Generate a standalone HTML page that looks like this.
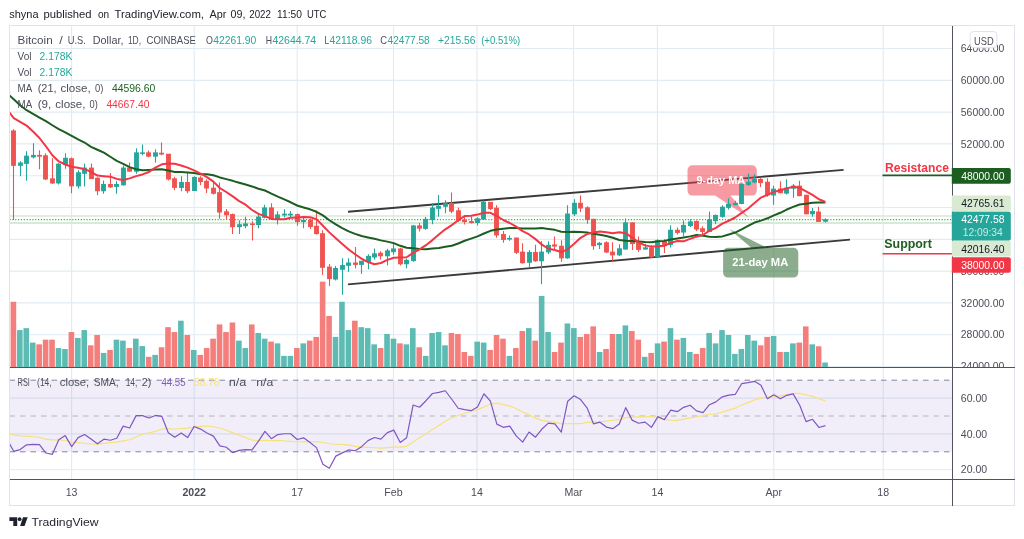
<!DOCTYPE html>
<html><head><meta charset="utf-8"><title>BTCUSD chart</title>
<style>html,body{margin:0;padding:0;background:#fff;overflow:hidden}body{width:1024px;height:539px}</style></head>
<body>
<svg width="1024" height="539" viewBox="0 0 1024 539" style="display:block;font-family:'Liberation Sans', 'DejaVu Sans', sans-serif">
<rect width="1024" height="539" fill="#fff"/>
<defs><clipPath id="cm"><rect x="9.5" y="25.5" width="943.0" height="341.5"/></clipPath><clipPath id="cr"><rect x="9.5" y="367" width="943.0" height="112.5"/></clipPath></defs>
<text x="9.2" y="17.6" font-size="11.2" fill="#20232c" textLength="29.3" lengthAdjust="spacingAndGlyphs">shyna</text>
<text x="43.5" y="17.6" font-size="11.2" fill="#20232c" textLength="48.1" lengthAdjust="spacingAndGlyphs">published</text>
<text x="97.9" y="17.6" font-size="11.2" fill="#20232c" textLength="11.2" lengthAdjust="spacingAndGlyphs">on</text>
<text x="114.5" y="17.6" font-size="11.2" fill="#20232c" textLength="89.5" lengthAdjust="spacingAndGlyphs">TradingView.com,</text>
<text x="209.5" y="17.6" font-size="11.2" fill="#20232c" textLength="16.9" lengthAdjust="spacingAndGlyphs">Apr</text>
<text x="230.6" y="17.6" font-size="11.2" fill="#20232c" textLength="14.9" lengthAdjust="spacingAndGlyphs">09,</text>
<text x="249.3" y="17.6" font-size="11.2" fill="#20232c" textLength="21.6" lengthAdjust="spacingAndGlyphs">2022</text>
<text x="277" y="17.6" font-size="11.2" fill="#20232c" textLength="24.9" lengthAdjust="spacingAndGlyphs">11:50</text>
<text x="306.9" y="17.6" font-size="11.2" fill="#20232c" textLength="19.4" lengthAdjust="spacingAndGlyphs">UTC</text>
<g stroke="#e2ebf2" stroke-width="1.15">
<line x1="71.6" y1="25.5" x2="71.6" y2="479.5"/>
<line x1="194.2" y1="25.5" x2="194.2" y2="479.5"/>
<line x1="297.2" y1="25.5" x2="297.2" y2="479.5"/>
<line x1="393.5" y1="25.5" x2="393.5" y2="479.5"/>
<line x1="477.0" y1="25.5" x2="477.0" y2="479.5"/>
<line x1="573.5" y1="25.5" x2="573.5" y2="479.5"/>
<line x1="657.4" y1="25.5" x2="657.4" y2="479.5"/>
<line x1="773.8" y1="25.5" x2="773.8" y2="479.5"/>
<line x1="883.2" y1="25.5" x2="883.2" y2="479.5"/>
<line x1="9.5" y1="48.5" x2="952.5" y2="48.5"/>
<line x1="9.5" y1="80.3" x2="952.5" y2="80.3"/>
<line x1="9.5" y1="112.1" x2="952.5" y2="112.1"/>
<line x1="9.5" y1="143.9" x2="952.5" y2="143.9"/>
<line x1="9.5" y1="175.7" x2="952.5" y2="175.7"/>
<line x1="9.5" y1="207.5" x2="952.5" y2="207.5"/>
<line x1="9.5" y1="239.3" x2="952.5" y2="239.3"/>
<line x1="9.5" y1="271.1" x2="952.5" y2="271.1"/>
<line x1="9.5" y1="302.9" x2="952.5" y2="302.9"/>
<line x1="9.5" y1="334.7" x2="952.5" y2="334.7"/>
<line x1="9.5" y1="366.5" x2="952.5" y2="366.5"/>
<line x1="9.5" y1="398.1" x2="952.5" y2="398.1"/>
<line x1="9.5" y1="433.9" x2="952.5" y2="433.9"/>
<line x1="9.5" y1="469.7" x2="952.5" y2="469.7"/>
</g>
<g clip-path="url(#cm)">
<rect x="10.60" y="301.77" width="5.6" height="65.23" fill="#f37e7c"/>
<rect x="17.04" y="330.09" width="5.6" height="36.91" fill="#5cbcb3"/>
<rect x="23.48" y="328.13" width="5.6" height="38.87" fill="#5cbcb3"/>
<rect x="29.93" y="342.59" width="5.6" height="24.41" fill="#5cbcb3"/>
<rect x="36.37" y="344.34" width="5.6" height="22.66" fill="#f37e7c"/>
<rect x="42.81" y="339.66" width="5.6" height="27.34" fill="#f37e7c"/>
<rect x="49.25" y="339.66" width="5.6" height="27.34" fill="#f37e7c"/>
<rect x="55.69" y="348.05" width="5.6" height="18.95" fill="#5cbcb3"/>
<rect x="62.14" y="349.03" width="5.6" height="17.97" fill="#5cbcb3"/>
<rect x="68.58" y="332.04" width="5.6" height="34.96" fill="#f37e7c"/>
<rect x="75.02" y="337.90" width="5.6" height="29.10" fill="#5cbcb3"/>
<rect x="81.46" y="330.09" width="5.6" height="36.91" fill="#5cbcb3"/>
<rect x="87.90" y="345.32" width="5.6" height="21.68" fill="#f37e7c"/>
<rect x="94.35" y="334.97" width="5.6" height="32.03" fill="#f37e7c"/>
<rect x="100.79" y="352.94" width="5.6" height="14.06" fill="#5cbcb3"/>
<rect x="107.23" y="350.01" width="5.6" height="16.99" fill="#f37e7c"/>
<rect x="113.67" y="339.66" width="5.6" height="27.34" fill="#5cbcb3"/>
<rect x="120.11" y="340.63" width="5.6" height="26.37" fill="#5cbcb3"/>
<rect x="126.56" y="348.05" width="5.6" height="18.95" fill="#f37e7c"/>
<rect x="133.00" y="338.68" width="5.6" height="28.32" fill="#5cbcb3"/>
<rect x="139.44" y="346.10" width="5.6" height="20.90" fill="#5cbcb3"/>
<rect x="145.88" y="356.84" width="5.6" height="10.16" fill="#f37e7c"/>
<rect x="152.32" y="354.89" width="5.6" height="12.11" fill="#5cbcb3"/>
<rect x="158.77" y="347.27" width="5.6" height="19.73" fill="#f37e7c"/>
<rect x="165.21" y="327.16" width="5.6" height="39.84" fill="#f37e7c"/>
<rect x="171.65" y="332.04" width="5.6" height="34.96" fill="#f37e7c"/>
<rect x="178.09" y="320.71" width="5.6" height="46.29" fill="#5cbcb3"/>
<rect x="184.53" y="334.97" width="5.6" height="32.03" fill="#f37e7c"/>
<rect x="190.98" y="350.01" width="5.6" height="16.99" fill="#5cbcb3"/>
<rect x="197.42" y="354.89" width="5.6" height="12.11" fill="#f37e7c"/>
<rect x="203.86" y="348.05" width="5.6" height="18.95" fill="#f37e7c"/>
<rect x="210.30" y="338.68" width="5.6" height="28.32" fill="#f37e7c"/>
<rect x="216.74" y="324.42" width="5.6" height="42.58" fill="#f37e7c"/>
<rect x="223.19" y="332.04" width="5.6" height="34.96" fill="#f37e7c"/>
<rect x="229.63" y="322.47" width="5.6" height="44.53" fill="#f37e7c"/>
<rect x="236.07" y="340.63" width="5.6" height="26.37" fill="#5cbcb3"/>
<rect x="242.51" y="348.05" width="5.6" height="18.95" fill="#5cbcb3"/>
<rect x="248.95" y="324.42" width="5.6" height="42.58" fill="#f37e7c"/>
<rect x="255.40" y="333.02" width="5.6" height="33.98" fill="#5cbcb3"/>
<rect x="261.84" y="338.68" width="5.6" height="28.32" fill="#5cbcb3"/>
<rect x="268.28" y="341.61" width="5.6" height="25.39" fill="#f37e7c"/>
<rect x="274.72" y="343.37" width="5.6" height="23.63" fill="#5cbcb3"/>
<rect x="281.16" y="355.87" width="5.6" height="11.13" fill="#5cbcb3"/>
<rect x="287.61" y="355.87" width="5.6" height="11.13" fill="#5cbcb3"/>
<rect x="294.05" y="348.05" width="5.6" height="18.95" fill="#f37e7c"/>
<rect x="300.49" y="343.37" width="5.6" height="23.63" fill="#5cbcb3"/>
<rect x="306.93" y="340.63" width="5.6" height="26.37" fill="#f37e7c"/>
<rect x="313.37" y="336.92" width="5.6" height="30.08" fill="#f37e7c"/>
<rect x="319.82" y="281.65" width="5.6" height="85.35" fill="#f37e7c"/>
<rect x="326.26" y="316.02" width="5.6" height="50.98" fill="#f37e7c"/>
<rect x="332.70" y="336.92" width="5.6" height="30.08" fill="#5cbcb3"/>
<rect x="339.14" y="301.77" width="5.6" height="65.23" fill="#5cbcb3"/>
<rect x="345.58" y="330.09" width="5.6" height="36.91" fill="#5cbcb3"/>
<rect x="352.03" y="320.71" width="5.6" height="46.29" fill="#f37e7c"/>
<rect x="358.47" y="327.16" width="5.6" height="39.84" fill="#5cbcb3"/>
<rect x="364.91" y="328.13" width="5.6" height="38.87" fill="#5cbcb3"/>
<rect x="371.35" y="344.34" width="5.6" height="22.66" fill="#5cbcb3"/>
<rect x="377.79" y="348.05" width="5.6" height="18.95" fill="#f37e7c"/>
<rect x="384.24" y="333.99" width="5.6" height="33.01" fill="#5cbcb3"/>
<rect x="390.68" y="338.68" width="5.6" height="28.32" fill="#5cbcb3"/>
<rect x="397.12" y="343.37" width="5.6" height="23.63" fill="#f37e7c"/>
<rect x="403.56" y="344.34" width="5.6" height="22.66" fill="#5cbcb3"/>
<rect x="410.00" y="328.13" width="5.6" height="38.87" fill="#5cbcb3"/>
<rect x="416.45" y="347.27" width="5.6" height="19.73" fill="#f37e7c"/>
<rect x="422.89" y="355.87" width="5.6" height="11.13" fill="#5cbcb3"/>
<rect x="429.33" y="333.02" width="5.6" height="33.98" fill="#5cbcb3"/>
<rect x="435.77" y="332.04" width="5.6" height="34.96" fill="#5cbcb3"/>
<rect x="442.21" y="345.32" width="5.6" height="21.68" fill="#5cbcb3"/>
<rect x="448.66" y="333.02" width="5.6" height="33.98" fill="#f37e7c"/>
<rect x="455.10" y="333.99" width="5.6" height="33.01" fill="#f37e7c"/>
<rect x="461.54" y="351.96" width="5.6" height="15.04" fill="#f37e7c"/>
<rect x="467.98" y="355.87" width="5.6" height="11.13" fill="#f37e7c"/>
<rect x="474.42" y="341.61" width="5.6" height="25.39" fill="#5cbcb3"/>
<rect x="480.87" y="342.59" width="5.6" height="24.41" fill="#5cbcb3"/>
<rect x="487.31" y="350.01" width="5.6" height="16.99" fill="#f37e7c"/>
<rect x="493.75" y="334.97" width="5.6" height="32.03" fill="#f37e7c"/>
<rect x="500.19" y="338.68" width="5.6" height="28.32" fill="#f37e7c"/>
<rect x="506.63" y="355.87" width="5.6" height="11.13" fill="#5cbcb3"/>
<rect x="513.08" y="348.05" width="5.6" height="18.95" fill="#f37e7c"/>
<rect x="519.52" y="331.06" width="5.6" height="35.94" fill="#f37e7c"/>
<rect x="525.96" y="328.13" width="5.6" height="38.87" fill="#5cbcb3"/>
<rect x="532.40" y="340.63" width="5.6" height="26.37" fill="#f37e7c"/>
<rect x="538.84" y="295.91" width="5.6" height="71.09" fill="#5cbcb3"/>
<rect x="545.29" y="332.04" width="5.6" height="34.96" fill="#5cbcb3"/>
<rect x="551.73" y="351.96" width="5.6" height="15.04" fill="#f37e7c"/>
<rect x="558.17" y="342.59" width="5.6" height="24.41" fill="#f37e7c"/>
<rect x="564.61" y="323.45" width="5.6" height="43.55" fill="#5cbcb3"/>
<rect x="571.05" y="328.13" width="5.6" height="38.87" fill="#5cbcb3"/>
<rect x="577.50" y="336.92" width="5.6" height="30.08" fill="#f37e7c"/>
<rect x="583.94" y="333.99" width="5.6" height="33.01" fill="#f37e7c"/>
<rect x="590.38" y="326.38" width="5.6" height="40.62" fill="#f37e7c"/>
<rect x="596.82" y="351.96" width="5.6" height="15.04" fill="#5cbcb3"/>
<rect x="603.26" y="349.03" width="5.6" height="17.97" fill="#f37e7c"/>
<rect x="609.71" y="333.99" width="5.6" height="33.01" fill="#f37e7c"/>
<rect x="616.15" y="333.99" width="5.6" height="33.01" fill="#5cbcb3"/>
<rect x="622.59" y="325.40" width="5.6" height="41.60" fill="#5cbcb3"/>
<rect x="629.03" y="331.06" width="5.6" height="35.94" fill="#f37e7c"/>
<rect x="635.47" y="339.66" width="5.6" height="27.34" fill="#f37e7c"/>
<rect x="641.92" y="356.84" width="5.6" height="10.16" fill="#5cbcb3"/>
<rect x="648.36" y="352.94" width="5.6" height="14.06" fill="#f37e7c"/>
<rect x="654.80" y="343.37" width="5.6" height="23.63" fill="#5cbcb3"/>
<rect x="661.24" y="341.61" width="5.6" height="25.39" fill="#f37e7c"/>
<rect x="667.68" y="328.13" width="5.6" height="38.87" fill="#5cbcb3"/>
<rect x="674.13" y="339.66" width="5.6" height="27.34" fill="#f37e7c"/>
<rect x="680.57" y="337.90" width="5.6" height="29.10" fill="#5cbcb3"/>
<rect x="687.01" y="351.96" width="5.6" height="15.04" fill="#5cbcb3"/>
<rect x="693.45" y="353.91" width="5.6" height="13.09" fill="#f37e7c"/>
<rect x="699.89" y="348.05" width="5.6" height="18.95" fill="#f37e7c"/>
<rect x="706.34" y="333.02" width="5.6" height="33.98" fill="#5cbcb3"/>
<rect x="712.78" y="343.37" width="5.6" height="23.63" fill="#5cbcb3"/>
<rect x="719.22" y="330.09" width="5.6" height="36.91" fill="#5cbcb3"/>
<rect x="725.66" y="334.97" width="5.6" height="32.03" fill="#5cbcb3"/>
<rect x="732.10" y="353.91" width="5.6" height="13.09" fill="#5cbcb3"/>
<rect x="738.55" y="349.03" width="5.6" height="17.97" fill="#5cbcb3"/>
<rect x="744.99" y="334.97" width="5.6" height="32.03" fill="#5cbcb3"/>
<rect x="751.43" y="340.63" width="5.6" height="26.37" fill="#5cbcb3"/>
<rect x="757.87" y="345.32" width="5.6" height="21.68" fill="#f37e7c"/>
<rect x="764.31" y="336.92" width="5.6" height="30.08" fill="#f37e7c"/>
<rect x="770.76" y="335.95" width="5.6" height="31.05" fill="#5cbcb3"/>
<rect x="777.20" y="351.96" width="5.6" height="15.04" fill="#f37e7c"/>
<rect x="783.64" y="351.96" width="5.6" height="15.04" fill="#5cbcb3"/>
<rect x="790.08" y="343.37" width="5.6" height="23.63" fill="#5cbcb3"/>
<rect x="796.52" y="342.59" width="5.6" height="24.41" fill="#f37e7c"/>
<rect x="802.97" y="326.38" width="5.6" height="40.62" fill="#f37e7c"/>
<rect x="809.41" y="344.34" width="5.6" height="22.66" fill="#5cbcb3"/>
<rect x="815.85" y="346.30" width="5.6" height="20.70" fill="#f37e7c"/>
<rect x="822.29" y="362.51" width="5.6" height="4.49" fill="#5cbcb3"/>
<line x1="9.5" x2="952.5" y1="216.05" y2="216.05" stroke="#d9ead3" stroke-width="1.6"/>
<line x1="9.5" x2="952.5" y1="223.0" y2="223.0" stroke="#d9ead3" stroke-width="1.8"/>
<line x1="9.5" x2="952.5" y1="219.6" y2="219.6" stroke="#26a69a" stroke-width="1.2" stroke-dasharray="1.2 1.65"/>
<line x1="348" y1="211.7" x2="843.6" y2="169.9" stroke="#3a3a3a" stroke-width="1.9"/>
<line x1="348" y1="284.4" x2="850" y2="239.6" stroke="#3a3a3a" stroke-width="1.9"/>
<path fill="#f23645" fill-opacity="0.5" d="M692.5,165.2 h59.3 a5,5 0 0 1 5,5 v20.4 a5,5 0 0 1 -5,5 H730.5 L748.8,217.7 L715,195.6 H692.5 a5,5 0 0 1 -5,-5 V170.2 a5,5 0 0 1 5,-5 Z"/>
<text x="696.5" y="183.6" font-size="11.3" fill="#fff" font-weight="bold" textLength="48.8" lengthAdjust="spacingAndGlyphs">9-day MA</text>
<path fill="#1b5e20" fill-opacity="0.51" d="M728.1,247.7 H751.3 L729.2,229 L766.9,247.7 H793.3 a5,5 0 0 1 5,5 v19.9 a5,5 0 0 1 -5,5 H728.1 a5,5 0 0 1 -5,-5 V252.7 a5,5 0 0 1 5,-5 Z"/>
<text x="732.2" y="265.5" font-size="11.3" fill="#fff" font-weight="bold" textLength="56.1" lengthAdjust="spacingAndGlyphs">21-day MA</text>
<line x1="13.50" x2="13.50" y1="129.30" y2="219.90" stroke="#ef5350" stroke-width="1.1"/>
<rect x="11.05" y="130.46" width="4.9" height="35.37" fill="#ef5350"/>
<line x1="20.50" x2="20.50" y1="161.14" y2="176.18" stroke="#26a69a" stroke-width="1.1"/>
<rect x="18.05" y="162.50" width="4.9" height="3.34" fill="#26a69a"/>
<line x1="26.50" x2="26.50" y1="151.17" y2="180.67" stroke="#26a69a" stroke-width="1.1"/>
<rect x="24.05" y="155.66" width="4.9" height="8.22" fill="#26a69a"/>
<line x1="33.50" x2="33.50" y1="143.37" y2="158.60" stroke="#26a69a" stroke-width="1.1"/>
<rect x="31.05" y="154.88" width="4.9" height="2.56" fill="#26a69a"/>
<line x1="39.50" x2="39.50" y1="150.20" y2="169.34" stroke="#ef5350" stroke-width="1.1"/>
<rect x="37.05" y="154.88" width="4.9" height="1.78" fill="#ef5350"/>
<line x1="45.50" x2="45.50" y1="153.13" y2="180.09" stroke="#ef5350" stroke-width="1.1"/>
<rect x="43.05" y="155.27" width="4.9" height="24.24" fill="#ef5350"/>
<line x1="52.50" x2="52.50" y1="158.21" y2="183.99" stroke="#ef5350" stroke-width="1.1"/>
<rect x="50.05" y="178.32" width="4.9" height="5.09" fill="#ef5350"/>
<line x1="58.50" x2="58.50" y1="162.90" y2="184.58" stroke="#26a69a" stroke-width="1.1"/>
<rect x="56.05" y="163.67" width="4.9" height="19.74" fill="#26a69a"/>
<line x1="65.50" x2="65.50" y1="153.13" y2="168.76" stroke="#26a69a" stroke-width="1.1"/>
<rect x="63.05" y="157.81" width="4.9" height="7.05" fill="#26a69a"/>
<line x1="71.50" x2="71.50" y1="157.62" y2="193.37" stroke="#ef5350" stroke-width="1.1"/>
<rect x="69.05" y="158.20" width="4.9" height="28.15" fill="#ef5350"/>
<line x1="78.50" x2="78.50" y1="170.32" y2="188.48" stroke="#26a69a" stroke-width="1.1"/>
<rect x="76.05" y="172.26" width="4.9" height="14.08" fill="#26a69a"/>
<line x1="84.50" x2="84.50" y1="163.48" y2="186.54" stroke="#26a69a" stroke-width="1.1"/>
<rect x="82.05" y="167.57" width="4.9" height="6.27" fill="#26a69a"/>
<line x1="91.50" x2="91.50" y1="163.48" y2="179.11" stroke="#ef5350" stroke-width="1.1"/>
<rect x="89.05" y="167.57" width="4.9" height="11.55" fill="#ef5350"/>
<line x1="97.50" x2="97.50" y1="177.15" y2="195.13" stroke="#ef5350" stroke-width="1.1"/>
<rect x="95.05" y="177.73" width="4.9" height="13.50" fill="#ef5350"/>
<line x1="103.50" x2="103.50" y1="180.48" y2="193.76" stroke="#26a69a" stroke-width="1.1"/>
<rect x="101.05" y="183.98" width="4.9" height="7.25" fill="#26a69a"/>
<line x1="110.50" x2="110.50" y1="173.05" y2="187.90" stroke="#ef5350" stroke-width="1.1"/>
<rect x="108.05" y="183.98" width="4.9" height="3.34" fill="#ef5350"/>
<line x1="116.50" x2="116.50" y1="181.07" y2="193.76" stroke="#26a69a" stroke-width="1.1"/>
<rect x="114.05" y="183.98" width="4.9" height="2.95" fill="#26a69a"/>
<line x1="123.50" x2="123.50" y1="165.44" y2="185.56" stroke="#26a69a" stroke-width="1.1"/>
<rect x="121.05" y="167.57" width="4.9" height="17.80" fill="#26a69a"/>
<line x1="129.50" x2="129.50" y1="162.50" y2="171.69" stroke="#ef5350" stroke-width="1.1"/>
<rect x="127.05" y="167.57" width="4.9" height="4.12" fill="#ef5350"/>
<line x1="136.50" x2="136.50" y1="148.25" y2="173.83" stroke="#26a69a" stroke-width="1.1"/>
<rect x="134.05" y="152.34" width="4.9" height="19.36" fill="#26a69a"/>
<line x1="142.50" x2="142.50" y1="144.54" y2="155.28" stroke="#26a69a" stroke-width="1.1"/>
<rect x="140.05" y="152.34" width="4.9" height="1.58" fill="#26a69a"/>
<line x1="148.50" x2="148.50" y1="150.40" y2="157.23" stroke="#ef5350" stroke-width="1.1"/>
<rect x="146.05" y="152.34" width="4.9" height="4.31" fill="#ef5350"/>
<line x1="155.50" x2="155.50" y1="149.23" y2="162.50" stroke="#26a69a" stroke-width="1.1"/>
<rect x="153.05" y="152.34" width="4.9" height="4.31" fill="#26a69a"/>
<line x1="161.50" x2="161.50" y1="142.39" y2="155.28" stroke="#ef5350" stroke-width="1.1"/>
<rect x="159.05" y="152.73" width="4.9" height="1.78" fill="#ef5350"/>
<line x1="168.50" x2="168.50" y1="154.11" y2="180.48" stroke="#ef5350" stroke-width="1.1"/>
<rect x="166.05" y="153.71" width="4.9" height="25.80" fill="#ef5350"/>
<line x1="174.50" x2="174.50" y1="176.77" y2="190.24" stroke="#ef5350" stroke-width="1.1"/>
<rect x="172.05" y="178.32" width="4.9" height="9.58" fill="#ef5350"/>
<line x1="181.50" x2="181.50" y1="176.18" y2="191.22" stroke="#26a69a" stroke-width="1.1"/>
<rect x="179.05" y="182.03" width="4.9" height="5.88" fill="#26a69a"/>
<line x1="187.50" x2="187.50" y1="171.88" y2="193.37" stroke="#ef5350" stroke-width="1.1"/>
<rect x="185.05" y="182.03" width="4.9" height="9.20" fill="#ef5350"/>
<line x1="194.50" x2="194.50" y1="176.18" y2="190.63" stroke="#26a69a" stroke-width="1.1"/>
<rect x="192.05" y="176.95" width="4.9" height="14.08" fill="#26a69a"/>
<line x1="200.50" x2="200.50" y1="176.37" y2="185.16" stroke="#ef5350" stroke-width="1.1"/>
<rect x="198.05" y="177.53" width="4.9" height="4.51" fill="#ef5350"/>
<line x1="206.50" x2="206.50" y1="179.29" y2="192.97" stroke="#ef5350" stroke-width="1.1"/>
<rect x="204.05" y="180.85" width="4.9" height="7.64" fill="#ef5350"/>
<line x1="213.50" x2="213.50" y1="181.64" y2="194.53" stroke="#ef5350" stroke-width="1.1"/>
<rect x="211.05" y="187.69" width="4.9" height="6.08" fill="#ef5350"/>
<line x1="219.50" x2="219.50" y1="182.62" y2="218.76" stroke="#ef5350" stroke-width="1.1"/>
<rect x="217.05" y="192.18" width="4.9" height="20.33" fill="#ef5350"/>
<line x1="226.50" x2="226.50" y1="208.99" y2="219.34" stroke="#ef5350" stroke-width="1.1"/>
<rect x="224.05" y="211.32" width="4.9" height="3.92" fill="#ef5350"/>
<line x1="232.50" x2="232.50" y1="213.48" y2="233.99" stroke="#ef5350" stroke-width="1.1"/>
<rect x="230.05" y="214.06" width="4.9" height="13.11" fill="#ef5350"/>
<line x1="239.50" x2="239.50" y1="220.32" y2="233.99" stroke="#26a69a" stroke-width="1.1"/>
<rect x="237.05" y="224.22" width="4.9" height="2.95" fill="#26a69a"/>
<line x1="245.50" x2="245.50" y1="216.80" y2="228.13" stroke="#26a69a" stroke-width="1.1"/>
<rect x="243.05" y="223.43" width="4.9" height="2.76" fill="#26a69a"/>
<line x1="252.50" x2="252.50" y1="221.29" y2="240.44" stroke="#ef5350" stroke-width="1.1"/>
<rect x="250.05" y="223.43" width="4.9" height="1.59" fill="#ef5350"/>
<line x1="258.50" x2="258.50" y1="214.46" y2="228.13" stroke="#26a69a" stroke-width="1.1"/>
<rect x="256.05" y="216.60" width="4.9" height="8.42" fill="#26a69a"/>
<line x1="264.50" x2="264.50" y1="204.69" y2="218.37" stroke="#26a69a" stroke-width="1.1"/>
<rect x="262.05" y="207.42" width="4.9" height="10.37" fill="#26a69a"/>
<line x1="271.50" x2="271.50" y1="203.33" y2="219.34" stroke="#ef5350" stroke-width="1.1"/>
<rect x="269.05" y="207.42" width="4.9" height="11.74" fill="#ef5350"/>
<line x1="277.50" x2="277.50" y1="211.13" y2="224.62" stroke="#26a69a" stroke-width="1.1"/>
<rect x="275.05" y="214.45" width="4.9" height="4.71" fill="#26a69a"/>
<line x1="284.50" x2="284.50" y1="209.19" y2="217.39" stroke="#26a69a" stroke-width="1.1"/>
<rect x="282.05" y="213.67" width="4.9" height="1.78" fill="#26a69a"/>
<line x1="290.50" x2="290.50" y1="210.94" y2="217.00" stroke="#26a69a" stroke-width="1.1"/>
<rect x="288.05" y="213.67" width="4.9" height="1.78" fill="#26a69a"/>
<line x1="297.50" x2="297.50" y1="213.48" y2="225.78" stroke="#ef5350" stroke-width="1.1"/>
<rect x="295.05" y="214.06" width="4.9" height="8.03" fill="#ef5350"/>
<line x1="303.50" x2="303.50" y1="217.39" y2="228.13" stroke="#26a69a" stroke-width="1.1"/>
<rect x="301.05" y="219.92" width="4.9" height="2.17" fill="#26a69a"/>
<line x1="310.50" x2="310.50" y1="218.76" y2="229.11" stroke="#ef5350" stroke-width="1.1"/>
<rect x="308.05" y="219.92" width="4.9" height="7.05" fill="#ef5350"/>
<line x1="316.50" x2="316.50" y1="210.84" y2="234.38" stroke="#ef5350" stroke-width="1.1"/>
<rect x="314.05" y="225.77" width="4.9" height="8.36" fill="#ef5350"/>
<line x1="322.50" x2="322.50" y1="230.18" y2="274.81" stroke="#ef5350" stroke-width="1.1"/>
<rect x="320.05" y="233.20" width="4.9" height="34.60" fill="#ef5350"/>
<line x1="329.50" x2="329.50" y1="264.07" y2="285.95" stroke="#ef5350" stroke-width="1.1"/>
<rect x="327.05" y="266.61" width="4.9" height="12.52" fill="#ef5350"/>
<line x1="335.50" x2="335.50" y1="266.03" y2="280.48" stroke="#26a69a" stroke-width="1.1"/>
<rect x="333.05" y="267.97" width="4.9" height="11.54" fill="#26a69a"/>
<line x1="342.50" x2="342.50" y1="258.21" y2="294.74" stroke="#26a69a" stroke-width="1.1"/>
<rect x="340.05" y="265.04" width="4.9" height="4.70" fill="#26a69a"/>
<line x1="348.50" x2="348.50" y1="258.21" y2="271.89" stroke="#26a69a" stroke-width="1.1"/>
<rect x="346.05" y="262.50" width="4.9" height="3.34" fill="#26a69a"/>
<line x1="355.50" x2="355.50" y1="246.88" y2="268.37" stroke="#ef5350" stroke-width="1.1"/>
<rect x="353.05" y="262.50" width="4.9" height="2.36" fill="#ef5350"/>
<line x1="361.50" x2="361.50" y1="261.14" y2="273.83" stroke="#26a69a" stroke-width="1.1"/>
<rect x="359.05" y="260.74" width="4.9" height="4.12" fill="#26a69a"/>
<line x1="368.50" x2="368.50" y1="254.30" y2="269.34" stroke="#26a69a" stroke-width="1.1"/>
<rect x="366.05" y="255.86" width="4.9" height="6.07" fill="#26a69a"/>
<line x1="374.50" x2="374.50" y1="248.44" y2="259.58" stroke="#26a69a" stroke-width="1.1"/>
<rect x="372.05" y="253.32" width="4.9" height="4.12" fill="#26a69a"/>
<line x1="380.50" x2="380.50" y1="251.18" y2="259.58" stroke="#ef5350" stroke-width="1.1"/>
<rect x="378.05" y="252.73" width="4.9" height="3.53" fill="#ef5350"/>
<line x1="387.50" x2="387.50" y1="248.84" y2="265.44" stroke="#26a69a" stroke-width="1.1"/>
<rect x="385.05" y="250.39" width="4.9" height="5.88" fill="#26a69a"/>
<line x1="393.50" x2="393.50" y1="243.95" y2="254.70" stroke="#26a69a" stroke-width="1.1"/>
<rect x="391.05" y="248.44" width="4.9" height="3.73" fill="#26a69a"/>
<line x1="400.50" x2="400.50" y1="247.86" y2="265.44" stroke="#ef5350" stroke-width="1.1"/>
<rect x="398.05" y="248.44" width="4.9" height="15.83" fill="#ef5350"/>
<line x1="406.50" x2="406.50" y1="258.60" y2="268.37" stroke="#26a69a" stroke-width="1.1"/>
<rect x="404.05" y="259.81" width="4.9" height="4.46" fill="#26a69a"/>
<line x1="413.50" x2="413.50" y1="225.01" y2="261.73" stroke="#26a69a" stroke-width="1.1"/>
<rect x="411.05" y="225.42" width="4.9" height="35.66" fill="#26a69a"/>
<line x1="419.50" x2="419.50" y1="223.08" y2="231.59" stroke="#ef5350" stroke-width="1.1"/>
<rect x="417.05" y="225.42" width="4.9" height="3.22" fill="#ef5350"/>
<line x1="425.50" x2="425.50" y1="217.04" y2="229.64" stroke="#26a69a" stroke-width="1.1"/>
<rect x="423.05" y="218.79" width="4.9" height="10.10" fill="#26a69a"/>
<line x1="432.50" x2="432.50" y1="203.07" y2="224.35" stroke="#26a69a" stroke-width="1.1"/>
<rect x="430.05" y="207.55" width="4.9" height="12.51" fill="#26a69a"/>
<line x1="438.50" x2="438.50" y1="194.99" y2="216.72" stroke="#26a69a" stroke-width="1.1"/>
<rect x="436.05" y="205.79" width="4.9" height="3.05" fill="#26a69a"/>
<line x1="445.50" x2="445.50" y1="200.27" y2="213.33" stroke="#26a69a" stroke-width="1.1"/>
<rect x="443.05" y="203.16" width="4.9" height="3.63" fill="#26a69a"/>
<line x1="451.50" x2="451.50" y1="192.47" y2="213.33" stroke="#ef5350" stroke-width="1.1"/>
<rect x="449.05" y="202.89" width="4.9" height="8.79" fill="#ef5350"/>
<line x1="458.50" x2="458.50" y1="207.46" y2="221.92" stroke="#ef5350" stroke-width="1.1"/>
<rect x="456.05" y="210.28" width="4.9" height="10.38" fill="#ef5350"/>
<line x1="464.50" x2="464.50" y1="216.55" y2="224.55" stroke="#ef5350" stroke-width="1.1"/>
<rect x="462.05" y="219.86" width="4.9" height="2.17" fill="#ef5350"/>
<line x1="471.50" x2="471.50" y1="216.55" y2="223.57" stroke="#ef5350" stroke-width="1.1"/>
<rect x="469.05" y="221.04" width="4.9" height="2.06" fill="#ef5350"/>
<line x1="477.50" x2="477.50" y1="217.23" y2="225.55" stroke="#26a69a" stroke-width="1.1"/>
<rect x="475.05" y="218.31" width="4.9" height="4.70" fill="#26a69a"/>
<line x1="483.50" x2="483.50" y1="200.86" y2="219.81" stroke="#26a69a" stroke-width="1.1"/>
<rect x="481.05" y="201.69" width="4.9" height="17.89" fill="#26a69a"/>
<line x1="490.50" x2="490.50" y1="202.23" y2="210.04" stroke="#ef5350" stroke-width="1.1"/>
<rect x="488.05" y="201.83" width="4.9" height="7.25" fill="#ef5350"/>
<line x1="496.50" x2="496.50" y1="205.16" y2="237.78" stroke="#ef5350" stroke-width="1.1"/>
<rect x="494.05" y="207.69" width="4.9" height="27.76" fill="#ef5350"/>
<line x1="503.50" x2="503.50" y1="230.94" y2="242.66" stroke="#ef5350" stroke-width="1.1"/>
<rect x="501.05" y="234.06" width="4.9" height="5.88" fill="#ef5350"/>
<line x1="509.50" x2="509.50" y1="235.44" y2="240.71" stroke="#26a69a" stroke-width="1.1"/>
<rect x="507.05" y="237.97" width="4.9" height="1.58" fill="#26a69a"/>
<line x1="516.50" x2="516.50" y1="237.39" y2="253.99" stroke="#ef5350" stroke-width="1.1"/>
<rect x="514.05" y="237.57" width="4.9" height="15.26" fill="#ef5350"/>
<line x1="522.50" x2="522.50" y1="243.25" y2="263.76" stroke="#ef5350" stroke-width="1.1"/>
<rect x="520.05" y="251.64" width="4.9" height="11.55" fill="#ef5350"/>
<line x1="529.50" x2="529.50" y1="250.09" y2="267.28" stroke="#26a69a" stroke-width="1.1"/>
<rect x="527.05" y="252.03" width="4.9" height="10.76" fill="#26a69a"/>
<line x1="535.50" x2="535.50" y1="244.81" y2="261.81" stroke="#ef5350" stroke-width="1.1"/>
<rect x="533.05" y="252.03" width="4.9" height="9.20" fill="#ef5350"/>
<line x1="541.50" x2="541.50" y1="241.30" y2="284.22" stroke="#26a69a" stroke-width="1.1"/>
<rect x="539.05" y="251.64" width="4.9" height="9.59" fill="#26a69a"/>
<line x1="548.50" x2="548.50" y1="241.30" y2="253.99" stroke="#26a69a" stroke-width="1.1"/>
<rect x="546.05" y="244.81" width="4.9" height="7.63" fill="#26a69a"/>
<line x1="554.50" x2="554.50" y1="236.41" y2="249.11" stroke="#ef5350" stroke-width="1.1"/>
<rect x="552.05" y="244.42" width="4.9" height="2.16" fill="#ef5350"/>
<line x1="561.50" x2="561.50" y1="240.32" y2="261.81" stroke="#ef5350" stroke-width="1.1"/>
<rect x="559.05" y="245.78" width="4.9" height="12.53" fill="#ef5350"/>
<line x1="567.50" x2="567.50" y1="205.16" y2="258.87" stroke="#26a69a" stroke-width="1.1"/>
<rect x="565.05" y="213.55" width="4.9" height="44.76" fill="#26a69a"/>
<line x1="574.50" x2="574.50" y1="199.30" y2="215.90" stroke="#26a69a" stroke-width="1.1"/>
<rect x="572.05" y="202.81" width="4.9" height="11.54" fill="#26a69a"/>
<line x1="580.50" x2="580.50" y1="195.39" y2="212.00" stroke="#ef5350" stroke-width="1.1"/>
<rect x="578.05" y="202.81" width="4.9" height="5.68" fill="#ef5350"/>
<line x1="587.50" x2="587.50" y1="206.13" y2="223.72" stroke="#ef5350" stroke-width="1.1"/>
<rect x="585.05" y="207.30" width="4.9" height="12.52" fill="#ef5350"/>
<line x1="593.50" x2="593.50" y1="218.84" y2="249.70" stroke="#ef5350" stroke-width="1.1"/>
<rect x="591.05" y="218.83" width="4.9" height="27.36" fill="#ef5350"/>
<line x1="599.50" x2="599.50" y1="241.88" y2="249.11" stroke="#26a69a" stroke-width="1.1"/>
<rect x="597.05" y="242.85" width="4.9" height="2.37" fill="#26a69a"/>
<line x1="606.50" x2="606.50" y1="241.30" y2="253.01" stroke="#ef5350" stroke-width="1.1"/>
<rect x="604.05" y="242.26" width="4.9" height="10.17" fill="#ef5350"/>
<line x1="612.50" x2="612.50" y1="242.27" y2="260.83" stroke="#ef5350" stroke-width="1.1"/>
<rect x="610.05" y="251.64" width="4.9" height="3.73" fill="#ef5350"/>
<line x1="619.50" x2="619.50" y1="244.23" y2="255.95" stroke="#26a69a" stroke-width="1.1"/>
<rect x="617.05" y="248.32" width="4.9" height="7.05" fill="#26a69a"/>
<line x1="625.50" x2="625.50" y1="218.44" y2="249.70" stroke="#26a69a" stroke-width="1.1"/>
<rect x="623.05" y="222.34" width="4.9" height="27.17" fill="#26a69a"/>
<line x1="632.50" x2="632.50" y1="222.35" y2="250.09" stroke="#ef5350" stroke-width="1.1"/>
<rect x="630.05" y="222.34" width="4.9" height="21.70" fill="#ef5350"/>
<line x1="638.50" x2="638.50" y1="236.41" y2="252.04" stroke="#ef5350" stroke-width="1.1"/>
<rect x="636.05" y="242.26" width="4.9" height="7.64" fill="#ef5350"/>
<line x1="645.50" x2="645.50" y1="243.84" y2="249.50" stroke="#26a69a" stroke-width="1.1"/>
<rect x="643.05" y="247.34" width="4.9" height="2.17" fill="#26a69a"/>
<line x1="651.50" x2="651.50" y1="245.21" y2="257.90" stroke="#ef5350" stroke-width="1.1"/>
<rect x="649.05" y="247.34" width="4.9" height="9.98" fill="#ef5350"/>
<line x1="657.50" x2="657.50" y1="239.34" y2="257.51" stroke="#26a69a" stroke-width="1.1"/>
<rect x="655.05" y="240.31" width="4.9" height="17.02" fill="#26a69a"/>
<line x1="664.50" x2="664.50" y1="239.34" y2="253.01" stroke="#ef5350" stroke-width="1.1"/>
<rect x="662.05" y="240.90" width="4.9" height="5.29" fill="#ef5350"/>
<line x1="670.50" x2="670.50" y1="225.28" y2="247.54" stroke="#26a69a" stroke-width="1.1"/>
<rect x="668.05" y="229.77" width="4.9" height="15.25" fill="#26a69a"/>
<line x1="677.50" x2="677.50" y1="227.62" y2="234.46" stroke="#ef5350" stroke-width="1.1"/>
<rect x="675.05" y="229.77" width="4.9" height="3.14" fill="#ef5350"/>
<line x1="683.50" x2="683.50" y1="220.39" y2="236.41" stroke="#26a69a" stroke-width="1.1"/>
<rect x="681.05" y="224.88" width="4.9" height="7.64" fill="#26a69a"/>
<line x1="690.50" x2="690.50" y1="219.23" y2="227.03" stroke="#26a69a" stroke-width="1.1"/>
<rect x="688.05" y="221.36" width="4.9" height="4.71" fill="#26a69a"/>
<line x1="696.50" x2="696.50" y1="220.39" y2="230.94" stroke="#ef5350" stroke-width="1.1"/>
<rect x="694.05" y="220.97" width="4.9" height="8.61" fill="#ef5350"/>
<line x1="702.50" x2="702.50" y1="226.25" y2="234.46" stroke="#ef5350" stroke-width="1.1"/>
<rect x="700.05" y="228.20" width="4.9" height="3.73" fill="#ef5350"/>
<line x1="709.50" x2="709.50" y1="211.60" y2="231.53" stroke="#26a69a" stroke-width="1.1"/>
<rect x="707.05" y="219.41" width="4.9" height="12.53" fill="#26a69a"/>
<line x1="715.50" x2="715.50" y1="214.54" y2="224.30" stroke="#26a69a" stroke-width="1.1"/>
<rect x="713.05" y="214.91" width="4.9" height="6.27" fill="#26a69a"/>
<line x1="722.50" x2="722.50" y1="205.16" y2="217.86" stroke="#26a69a" stroke-width="1.1"/>
<rect x="720.05" y="206.71" width="4.9" height="10.18" fill="#26a69a"/>
<line x1="728.50" x2="728.50" y1="198.33" y2="209.46" stroke="#26a69a" stroke-width="1.1"/>
<rect x="726.05" y="203.78" width="4.9" height="4.12" fill="#26a69a"/>
<line x1="735.50" x2="735.50" y1="200.86" y2="205.16" stroke="#26a69a" stroke-width="1.1"/>
<rect x="733.05" y="202.81" width="4.9" height="2.37" fill="#26a69a"/>
<line x1="741.50" x2="741.50" y1="183.67" y2="204.18" stroke="#26a69a" stroke-width="1.1"/>
<rect x="739.05" y="183.77" width="4.9" height="20.21" fill="#26a69a"/>
<line x1="748.50" x2="748.50" y1="173.44" y2="185.84" stroke="#26a69a" stroke-width="1.1"/>
<rect x="746.05" y="181.72" width="4.9" height="3.34" fill="#26a69a"/>
<line x1="754.50" x2="754.50" y1="174.32" y2="183.20" stroke="#26a69a" stroke-width="1.1"/>
<rect x="752.05" y="179.09" width="4.9" height="3.43" fill="#26a69a"/>
<line x1="760.50" x2="760.50" y1="177.54" y2="186.90" stroke="#ef5350" stroke-width="1.1"/>
<rect x="758.05" y="178.90" width="4.9" height="4.21" fill="#ef5350"/>
<line x1="767.50" x2="767.50" y1="178.23" y2="196.85" stroke="#ef5350" stroke-width="1.1"/>
<rect x="765.05" y="181.72" width="4.9" height="13.58" fill="#ef5350"/>
<line x1="773.50" x2="773.50" y1="185.64" y2="204.85" stroke="#26a69a" stroke-width="1.1"/>
<rect x="771.05" y="188.65" width="4.9" height="6.85" fill="#26a69a"/>
<line x1="780.50" x2="780.50" y1="181.16" y2="193.24" stroke="#ef5350" stroke-width="1.1"/>
<rect x="778.05" y="188.55" width="4.9" height="4.70" fill="#ef5350"/>
<line x1="786.50" x2="786.50" y1="179.21" y2="194.41" stroke="#26a69a" stroke-width="1.1"/>
<rect x="784.05" y="187.58" width="4.9" height="6.05" fill="#26a69a"/>
<line x1="793.50" x2="793.50" y1="184.09" y2="197.72" stroke="#26a69a" stroke-width="1.1"/>
<rect x="791.05" y="185.63" width="4.9" height="3.14" fill="#26a69a"/>
<line x1="799.50" x2="799.50" y1="180.77" y2="196.16" stroke="#ef5350" stroke-width="1.1"/>
<rect x="797.05" y="185.63" width="4.9" height="10.54" fill="#ef5350"/>
<line x1="806.50" x2="806.50" y1="194.80" y2="214.27" stroke="#ef5350" stroke-width="1.1"/>
<rect x="804.05" y="194.79" width="4.9" height="19.50" fill="#ef5350"/>
<line x1="812.50" x2="812.50" y1="208.04" y2="216.81" stroke="#26a69a" stroke-width="1.1"/>
<rect x="810.05" y="210.96" width="4.9" height="3.33" fill="#26a69a"/>
<line x1="818.50" x2="818.50" y1="206.87" y2="221.67" stroke="#ef5350" stroke-width="1.1"/>
<rect x="816.05" y="211.54" width="4.9" height="10.36" fill="#ef5350"/>
<line x1="825.50" x2="825.50" y1="218.27" y2="222.45" stroke="#26a69a" stroke-width="1.1"/>
<rect x="823.05" y="219.20" width="4.9" height="2.51" fill="#26a69a"/>
<polyline points="7.26,93.49 13.70,99.21 20.14,105.23 26.58,110.20 33.03,113.81 39.47,117.56 45.91,121.09 52.35,125.26 58.79,129.15 65.24,132.35 71.68,135.96 78.12,139.44 84.56,142.53 91.00,146.82 97.45,149.72 103.89,152.69 110.33,156.74 116.77,160.87 123.21,163.89 129.66,167.16 136.10,169.28 142.54,170.33 148.98,169.89 155.42,169.41 161.87,169.31 168.31,170.45 174.75,171.94 181.19,172.10 187.63,172.47 194.08,173.10 200.52,174.22 206.96,174.32 213.40,175.30 219.84,177.41 226.29,179.13 232.73,180.84 239.17,182.75 245.61,184.51 252.05,186.43 258.50,188.76 264.94,190.50 271.38,193.64 277.82,196.60 284.26,199.35 290.71,202.27 297.15,205.49 303.59,207.45 310.03,209.31 316.47,211.76 322.92,215.40 329.36,220.23 335.80,224.36 342.24,228.04 348.68,231.36 355.13,233.85 361.57,236.05 368.01,237.46 374.45,238.84 380.89,240.37 387.34,241.62 393.78,243.13 400.22,245.80 406.66,247.77 413.10,248.30 419.55,248.97 425.99,249.22 432.43,248.56 438.87,247.89 445.31,246.79 451.76,245.73 458.20,243.48 464.64,240.76 471.08,238.59 477.52,236.36 483.97,233.47 490.41,230.81 496.85,229.57 503.29,228.77 509.73,228.04 516.18,227.88 522.62,228.45 529.06,228.62 535.50,228.47 541.94,228.08 548.39,229.01 554.83,229.86 561.27,231.70 567.71,231.99 574.15,231.85 580.60,232.06 587.04,232.45 593.48,233.67 599.92,234.70 606.36,236.09 612.81,237.82 619.25,240.04 625.69,240.71 632.13,241.12 638.57,241.59 645.02,242.04 651.46,242.25 657.90,241.20 664.34,240.89 670.78,239.43 677.23,238.50 683.67,237.55 690.11,236.38 696.55,235.02 702.99,235.85 709.44,236.65 715.88,236.99 722.32,236.40 728.76,234.42 735.20,232.52 741.65,229.28 748.09,225.81 754.53,222.52 760.97,220.61 767.41,218.29 773.86,215.41 780.30,212.80 786.74,209.52 793.18,206.91 799.62,204.53 806.07,203.76 812.51,202.75 818.95,202.57 825.39,202.47" fill="none" stroke="#1b5e20" stroke-width="2" stroke-linejoin="round"/>
<polyline points="7.26,109.58 13.70,118.11 20.14,121.77 26.58,125.55 33.03,131.50 39.47,137.99 45.91,146.28 52.35,155.22 58.79,161.43 65.24,164.48 71.68,166.76 78.12,167.85 84.56,169.17 91.00,171.77 97.45,175.62 103.89,176.20 110.33,176.64 116.77,178.89 123.21,179.98 129.66,178.35 136.10,176.14 142.54,174.44 148.98,171.95 155.42,167.71 161.87,164.35 168.31,163.48 174.75,163.83 181.19,165.44 187.63,167.61 194.08,170.34 200.52,173.55 206.96,177.09 213.40,181.60 219.84,188.05 226.29,192.02 232.73,196.38 239.17,201.07 245.61,204.73 252.05,209.99 258.50,213.91 264.94,216.11 271.38,218.93 277.82,219.23 284.26,219.15 290.71,217.74 297.15,217.41 303.59,217.02 310.03,217.24 316.47,219.09 322.92,225.71 329.36,232.38 335.80,238.32 342.24,244.03 348.68,249.46 355.13,254.21 361.57,258.75 368.01,262.05 374.45,264.27 380.89,262.99 387.34,259.88 393.78,257.71 400.22,257.54 406.66,257.24 413.10,252.95 419.55,249.29 425.99,245.17 432.43,240.09 438.87,234.57 445.31,229.32 451.76,225.15 458.20,220.30 464.64,216.01 471.08,215.67 477.52,214.61 483.97,212.71 490.41,212.79 496.85,215.99 503.29,219.99 509.73,223.00 516.18,226.58 522.62,231.15 529.06,234.45 535.50,239.13 541.94,244.68 548.39,248.74 554.83,249.98 561.27,252.02 567.71,249.31 574.15,243.84 580.60,237.76 587.04,234.09 593.48,232.42 599.92,231.44 606.36,232.20 612.81,233.18 619.25,232.16 625.69,233.14 632.13,237.63 638.57,242.23 645.02,245.38 651.46,246.61 657.90,246.33 664.34,245.64 670.78,242.88 677.23,241.08 683.67,241.36 690.11,238.93 696.55,236.67 702.99,234.87 709.44,230.75 715.88,227.93 722.32,223.63 728.76,220.74 735.20,217.49 741.65,212.92 748.09,208.52 754.53,202.99 760.97,197.57 767.41,194.80 773.86,191.88 780.30,190.30 786.74,188.50 793.18,186.59 799.62,187.88 806.07,191.41 812.51,194.95 818.95,199.26 825.39,202.00" fill="none" stroke="#f23645" stroke-width="2" stroke-linejoin="round"/>
<line x1="882.5" x2="952.5" y1="175.4" y2="175.4" stroke="#1b5e20" stroke-width="1.6"/>
<line x1="882.5" x2="952.5" y1="253.8" y2="253.8" stroke="#f23645" stroke-width="1.6"/>
<text x="885" y="172" font-size="13" fill="#f23645" font-weight="bold" textLength="64.0" lengthAdjust="spacingAndGlyphs">Resistance</text>
<text x="884.3" y="247.6" font-size="13" fill="#1b5e20" font-weight="bold" textLength="47.5" lengthAdjust="spacingAndGlyphs">Support</text>
</g>
<g clip-path="url(#cr)">
<rect x="9.5" y="380.2" width="943.0" height="71.6" fill="#7e57c2" fill-opacity="0.1"/>
<line x1="9.5" x2="952.5" y1="380.2" y2="380.2" stroke="#787b86" stroke-width="1" stroke-dasharray="5.5 5" opacity="0.9"/>
<line x1="9.5" x2="952.5" y1="416.0" y2="416.0" stroke="#787b86" stroke-width="1" stroke-dasharray="5.5 5" opacity="0.5"/>
<line x1="9.5" x2="952.5" y1="451.8" y2="451.8" stroke="#787b86" stroke-width="1" stroke-dasharray="5.5 5" opacity="0.9"/>
<polyline points="7.26,433.44 13.70,434.90 20.14,435.96 26.58,436.13 33.03,436.75 39.47,437.30 45.91,439.13 52.35,439.87 58.79,439.93 65.24,440.51 71.68,442.04 78.12,442.71 84.56,443.24 91.00,443.91 97.45,444.21 103.89,443.34 110.33,442.68 116.77,442.21 123.21,440.92 129.66,439.72 136.10,437.05 142.54,434.29 148.98,432.73 155.42,431.29 161.87,429.14 168.31,428.79 174.75,428.98 181.19,428.54 187.63,428.10 194.08,427.19 200.52,426.39 206.96,426.01 213.40,426.72 219.84,428.01 226.29,430.26 232.73,432.91 239.17,435.23 245.61,437.66 252.05,440.06 258.50,440.66 264.94,440.24 271.38,440.65 277.82,440.43 284.26,440.95 290.71,441.28 297.15,441.75 303.59,441.87 310.03,441.63 316.47,441.66 322.92,442.49 329.36,443.77 335.80,444.24 342.24,444.44 348.68,445.07 355.13,446.46 361.57,447.03 368.01,447.46 374.45,447.73 380.89,448.11 387.34,447.62 393.78,447.07 400.22,447.06 406.66,446.34 413.10,442.11 419.55,437.76 425.99,433.80 432.43,429.56 438.87,425.45 445.31,421.16 451.76,417.78 458.20,415.47 464.64,413.48 471.08,411.44 477.52,409.62 483.97,407.02 490.41,404.07 496.85,403.10 503.29,404.69 509.73,406.05 516.18,408.56 522.62,412.03 529.06,414.86 535.50,418.18 541.94,420.31 548.39,421.37 554.83,422.38 561.27,423.92 567.71,423.50 574.15,423.65 580.60,423.54 587.04,422.37 593.48,422.12 599.92,421.84 606.36,421.21 612.81,420.25 619.25,419.68 625.69,417.57 632.13,416.93 638.57,416.95 645.02,416.83 651.46,416.48 657.90,417.58 664.34,419.29 670.78,420.04 677.23,420.32 683.67,419.14 690.11,417.93 696.55,416.77 702.99,415.62 709.44,414.24 715.88,413.82 722.32,412.16 728.76,410.14 735.20,408.17 741.65,405.05 748.09,402.63 754.53,399.89 760.97,398.10 767.41,397.17 773.86,396.27 780.30,395.81 786.74,394.70 793.18,393.36 799.62,393.38 806.07,394.79 812.51,396.40 818.95,398.72 825.39,400.94" fill="none" stroke="#f5e27a" stroke-width="1.2" stroke-linejoin="round"/>
<polyline points="7.26,439.63 13.70,451.30 20.14,449.58 26.58,444.85 33.03,444.29 39.47,444.67 45.91,453.01 52.35,454.30 58.79,439.75 65.24,435.61 71.68,446.58 78.12,437.59 84.56,434.51 91.00,439.05 97.45,443.84 103.89,439.19 110.33,440.28 116.77,438.29 123.21,426.15 129.66,427.99 136.10,415.60 142.54,415.60 148.98,417.94 155.42,415.44 161.87,416.46 168.31,432.71 174.75,437.22 181.19,432.92 187.63,437.61 194.08,426.45 200.52,429.08 206.96,432.99 213.40,436.11 219.84,445.93 226.29,447.23 232.73,452.63 239.17,450.40 245.61,449.54 252.05,449.96 258.50,441.12 264.94,431.37 271.38,438.67 277.82,434.57 284.26,433.73 290.71,433.73 297.15,439.54 303.59,437.80 310.03,442.57 316.47,447.61 322.92,464.30 329.36,468.20 335.80,456.13 342.24,452.85 348.68,449.94 355.13,450.77 361.57,446.63 368.01,440.61 374.45,437.50 380.89,439.15 387.34,432.59 393.78,430.10 400.22,442.41 406.66,437.65 413.10,405.04 419.55,407.23 425.99,400.71 432.43,393.50 438.87,392.42 445.31,390.75 451.76,399.25 458.20,408.27 464.64,409.61 471.08,410.71 477.52,407.01 483.97,393.76 490.41,401.09 496.85,424.12 503.29,427.29 509.73,426.20 516.18,435.92 522.62,442.08 529.06,432.02 535.50,437.21 541.94,429.04 548.39,423.08 554.83,423.80 561.27,432.22 567.71,401.17 574.15,395.82 580.60,399.54 587.04,407.82 593.48,423.82 599.92,422.19 606.36,427.07 612.81,428.69 619.25,424.07 625.69,407.65 632.13,420.10 638.57,423.26 645.02,422.12 651.46,427.32 657.90,416.63 664.34,419.70 670.78,410.14 677.23,411.69 683.67,407.32 690.11,405.20 696.55,410.84 702.99,412.62 709.44,404.71 715.88,401.86 722.32,396.81 728.76,395.05 735.20,394.44 741.65,383.71 748.09,382.68 754.53,381.32 760.97,385.17 767.41,398.66 773.86,394.70 780.30,398.79 786.74,395.29 793.18,393.88 799.62,404.95 806.07,421.62 812.51,419.30 818.95,427.49 825.39,425.60" fill="none" stroke="#7e57c2" stroke-width="1.2" stroke-linejoin="round"/>
</g>
<text x="17.6" y="43.6" font-size="11" fill="#4b4e59" textLength="35.1" lengthAdjust="spacingAndGlyphs">Bitcoin</text>
<text x="59.2" y="43.6" font-size="11" fill="#4b4e59" textLength="3.5" lengthAdjust="spacingAndGlyphs">/</text>
<text x="67.8" y="43.6" font-size="11" fill="#4b4e59" textLength="18.1" lengthAdjust="spacingAndGlyphs">U.S.</text>
<text x="92.8" y="43.6" font-size="11" fill="#4b4e59" textLength="30.6" lengthAdjust="spacingAndGlyphs">Dollar,</text>
<text x="127.9" y="43.6" font-size="11" fill="#4b4e59" textLength="13.1" lengthAdjust="spacingAndGlyphs">1D,</text>
<text x="146.5" y="43.6" font-size="11" fill="#4b4e59" textLength="49.4" lengthAdjust="spacingAndGlyphs">COINBASE</text>
<text x="205.9" y="43.6" font-size="10.8" fill="#4b4e59" textLength="6.9" lengthAdjust="spacingAndGlyphs">O</text>
<text x="213.2" y="43.6" font-size="10.8" fill="#26a69a" textLength="43.2" lengthAdjust="spacingAndGlyphs">42261.90</text>
<text x="265.7" y="43.6" font-size="10.8" fill="#4b4e59" textLength="6.3" lengthAdjust="spacingAndGlyphs">H</text>
<text x="272.4" y="43.6" font-size="10.8" fill="#26a69a" textLength="43.8" lengthAdjust="spacingAndGlyphs">42644.74</text>
<text x="324.5" y="43.6" font-size="10.8" fill="#4b4e59" textLength="4.7" lengthAdjust="spacingAndGlyphs">L</text>
<text x="329.6" y="43.6" font-size="10.8" fill="#26a69a" textLength="42.3" lengthAdjust="spacingAndGlyphs">42118.96</text>
<text x="380.2" y="43.6" font-size="10.8" fill="#4b4e59" textLength="6.8" lengthAdjust="spacingAndGlyphs">C</text>
<text x="387.5" y="43.6" font-size="10.8" fill="#26a69a" textLength="42.2" lengthAdjust="spacingAndGlyphs">42477.58</text>
<text x="438" y="43.6" font-size="10.8" fill="#26a69a" textLength="37.5" lengthAdjust="spacingAndGlyphs">+215.56</text>
<text x="481.2" y="43.6" font-size="10.8" fill="#26a69a" textLength="39.1" lengthAdjust="spacingAndGlyphs">(+0.51%)</text>
<text x="17.6" y="59.6" font-size="10.8" fill="#4b4e59" textLength="14.0" lengthAdjust="spacingAndGlyphs">Vol</text>
<text x="39.6" y="59.6" font-size="10.8" fill="#26a69a" textLength="32.7" lengthAdjust="spacingAndGlyphs">2.178K</text>
<text x="17.6" y="75.6" font-size="10.8" fill="#4b4e59" textLength="14.0" lengthAdjust="spacingAndGlyphs">Vol</text>
<text x="39.6" y="75.6" font-size="10.8" fill="#26a69a" textLength="32.7" lengthAdjust="spacingAndGlyphs">2.178K</text>
<text x="17.6" y="91.6" font-size="11" fill="#4b4e59" textLength="14.6" lengthAdjust="spacingAndGlyphs">MA</text>
<text x="37.7" y="91.6" font-size="11" fill="#4b4e59" textLength="18.9" lengthAdjust="spacingAndGlyphs">(21,</text>
<text x="60.5" y="91.6" font-size="11" fill="#4b4e59" textLength="30.3" lengthAdjust="spacingAndGlyphs">close,</text>
<text x="95.1" y="91.6" font-size="11" fill="#4b4e59" textLength="8.4" lengthAdjust="spacingAndGlyphs">0)</text>
<text x="111.9" y="91.6" font-size="10.8" fill="#1b5e20" textLength="43.4" lengthAdjust="spacingAndGlyphs">44596.60</text>
<text x="17.6" y="107.7" font-size="11" fill="#4b4e59" textLength="14.6" lengthAdjust="spacingAndGlyphs">MA</text>
<text x="37.7" y="107.7" font-size="11" fill="#4b4e59" textLength="13.5" lengthAdjust="spacingAndGlyphs">(9,</text>
<text x="55.3" y="107.7" font-size="11" fill="#4b4e59" textLength="30.2" lengthAdjust="spacingAndGlyphs">close,</text>
<text x="89.5" y="107.7" font-size="11" fill="#4b4e59" textLength="8.2" lengthAdjust="spacingAndGlyphs">0)</text>
<text x="106.4" y="107.7" font-size="10.8" fill="#f23645" textLength="43.0" lengthAdjust="spacingAndGlyphs">44667.40</text>
<text x="17.6" y="386" font-size="11" fill="#4b4e59" textLength="12.2" lengthAdjust="spacingAndGlyphs">RSI</text>
<text x="37.1" y="386" font-size="11" fill="#4b4e59" textLength="14.6" lengthAdjust="spacingAndGlyphs">(14,</text>
<text x="59.8" y="386" font-size="11" fill="#4b4e59" textLength="29.3" lengthAdjust="spacingAndGlyphs">close,</text>
<text x="93.8" y="386" font-size="11" fill="#4b4e59" textLength="24.9" lengthAdjust="spacingAndGlyphs">SMA,</text>
<text x="125.7" y="386" font-size="11" fill="#4b4e59" textLength="11.7" lengthAdjust="spacingAndGlyphs">14,</text>
<text x="141.8" y="386" font-size="11" fill="#4b4e59" textLength="9.5" lengthAdjust="spacingAndGlyphs">2)</text>
<text x="161.4" y="386" font-size="10.8" fill="#7e57c2" textLength="24.1" lengthAdjust="spacingAndGlyphs">44.55</text>
<text x="194" y="386" font-size="10.8" fill="#f5e27a" textLength="25.5" lengthAdjust="spacingAndGlyphs">58.76</text>
<text x="228.8" y="386" font-size="10.8" fill="#4b4e59" textLength="17.6" lengthAdjust="spacingAndGlyphs">n/a</text>
<text x="256.3" y="386" font-size="10.8" fill="#4b4e59" textLength="17.0" lengthAdjust="spacingAndGlyphs">n/a</text>
<rect x="952.5" y="25.5" width="62.0" height="480.0" fill="#fff"/>
<text x="960.8" y="52.1" font-size="11.3" fill="#4b4e59" textLength="43.5" lengthAdjust="spacingAndGlyphs">64000.00</text>
<text x="960.8" y="83.9" font-size="11.3" fill="#4b4e59" textLength="43.5" lengthAdjust="spacingAndGlyphs">60000.00</text>
<text x="960.8" y="115.7" font-size="11.3" fill="#4b4e59" textLength="43.5" lengthAdjust="spacingAndGlyphs">56000.00</text>
<text x="960.8" y="147.5" font-size="11.3" fill="#4b4e59" textLength="43.5" lengthAdjust="spacingAndGlyphs">52000.00</text>
<text x="960.8" y="274.7" font-size="11.3" fill="#4b4e59" textLength="43.5" lengthAdjust="spacingAndGlyphs">36000.00</text>
<text x="960.8" y="306.5" font-size="11.3" fill="#4b4e59" textLength="43.5" lengthAdjust="spacingAndGlyphs">32000.00</text>
<text x="960.8" y="338.3" font-size="11.3" fill="#4b4e59" textLength="43.5" lengthAdjust="spacingAndGlyphs">28000.00</text>
<text x="960.8" y="370.1" font-size="11.3" fill="#4b4e59" textLength="43.5" lengthAdjust="spacingAndGlyphs">24000.00</text>
<rect x="952.5" y="367" width="62.0" height="138.5" fill="#fff"/>
<text x="960.8" y="401.8" font-size="11.3" fill="#4b4e59" textLength="26.3" lengthAdjust="spacingAndGlyphs">60.00</text>
<text x="960.8" y="437.6" font-size="11.3" fill="#4b4e59" textLength="26.3" lengthAdjust="spacingAndGlyphs">40.00</text>
<text x="960.8" y="473.4" font-size="11.3" fill="#4b4e59" textLength="26.3" lengthAdjust="spacingAndGlyphs">20.00</text>
<rect x="9.5" y="479.5" width="1005.0" height="26.0" fill="#fff"/>
<g font-size="10.6" fill="#4b4e59" text-anchor="middle">
<text x="71.6" y="496">13</text>
<text x="194.2" y="496" font-weight="bold">2022</text>
<text x="297.2" y="496">17</text>
<text x="393.5" y="496">Feb</text>
<text x="477.0" y="496">14</text>
<text x="573.5" y="496">Mar</text>
<text x="657.4" y="496">14</text>
<text x="773.8" y="496">Apr</text>
<text x="883.2" y="496">18</text>
</g>
<rect x="9.5" y="25.5" width="1005.0" height="480.0" fill="none" stroke="#e0e3eb" stroke-width="1"/>
<g stroke="#50535e" stroke-width="1" shape-rendering="crispEdges">
<line x1="952.5" y1="25.5" x2="952.5" y2="505.5"/>
<line x1="9.5" y1="367" x2="1014.5" y2="367"/>
<line x1="9.5" y1="479.5" x2="1014.5" y2="479.5"/>
</g>
<path d="M951.8,168 H1008.8 a2,2 0 0 1 2,2 V181.8 a2,2 0 0 1 -2,2 H951.8 Z" fill="#1b5e20"/>
<text x="961.2" y="179.6" font-size="11.3" fill="#fff" textLength="43.3" lengthAdjust="spacingAndGlyphs">48000.00</text>
<path d="M951.8,195.5 H1008.8 a2,2 0 0 1 2,2 V209.8 a2,2 0 0 1 -2,2 H951.8 Z" fill="#d9ead3"/>
<text x="961.2" y="207.2" font-size="11.3" fill="#131722" textLength="43.3" lengthAdjust="spacingAndGlyphs">42765.61</text>
<path d="M951.8,240.6 H1008.8 a2,2 0 0 1 2,2 V254.6 a2,2 0 0 1 -2,2 H951.8 Z" fill="#d9ead3"/>
<text x="961.2" y="252.6" font-size="11.3" fill="#131722" textLength="43.3" lengthAdjust="spacingAndGlyphs">42016.40</text>
<path d="M951.8,211.8 H1008.8 a2,2 0 0 1 2,2 V238.6 a2,2 0 0 1 -2,2 H951.8 Z" fill="#26a69a"/>
<text x="961.2" y="223.3" font-size="11.3" fill="#fff" textLength="43.3" lengthAdjust="spacingAndGlyphs">42477.58</text>
<text x="962.8" y="236.4" font-size="11.3" fill="#c9e9e6" textLength="40.0" lengthAdjust="spacingAndGlyphs">12:09:34</text>
<path d="M951.8,257.2 H1008.8 a2,2 0 0 1 2,2 V270.7 a2,2 0 0 1 -2,2 H951.8 Z" fill="#f23645"/>
<text x="961.2" y="268.9" font-size="11.3" fill="#fff" textLength="43.3" lengthAdjust="spacingAndGlyphs">38000.00</text>
<rect x="970.2" y="31.5" width="26.7" height="16.3" rx="3.5" fill="#fff" stroke="#e0e3eb" stroke-width="1"/>
<text x="974.1" y="44.6" font-size="11.4" fill="#4b4e59" textLength="19.7" lengthAdjust="spacingAndGlyphs">USD</text>
<g fill="#1e222d"><path d="M9.4,517.3 H17.2 V526.1 H13.3 V520.9 H9.4 Z"/><circle cx="19.6" cy="519.2" r="1.9"/><path d="M23,517.3 H27.7 L24.5,526.1 H20.1 Z"/></g>
<text x="31.5" y="526.2" font-size="11.6" fill="#1e222d" textLength="67.2" lengthAdjust="spacingAndGlyphs">TradingView</text>
</svg>
</body></html>
